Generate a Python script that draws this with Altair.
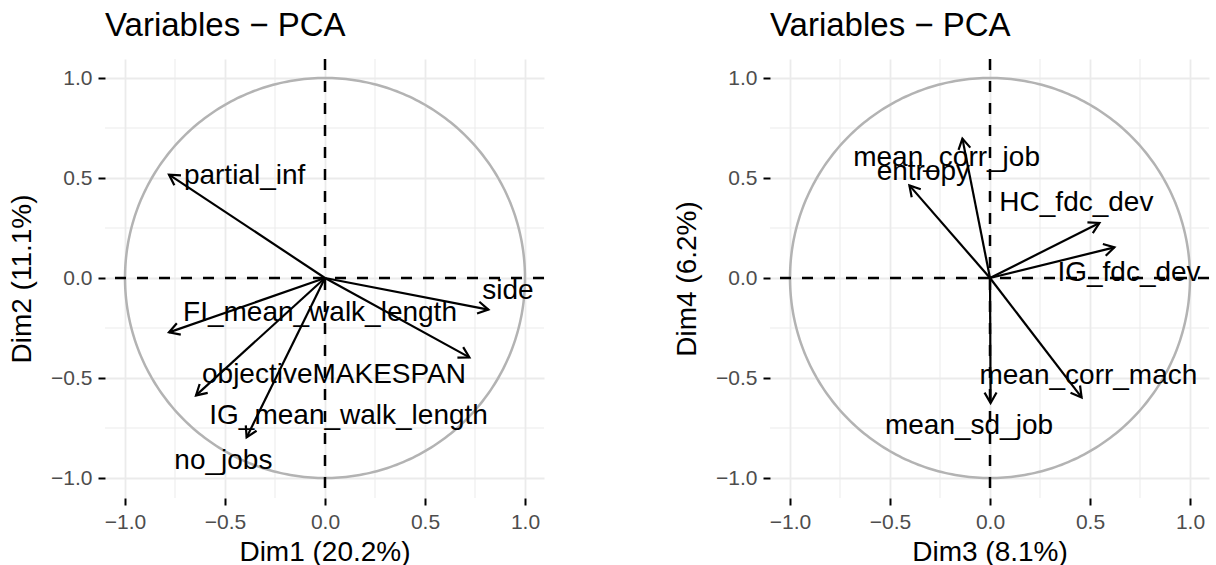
import altair as alt
import pandas as pd
import numpy as np

# ---------------- data ----------------
# Panel 1: Dim1 x Dim2
vars1 = ["partial_inf", "side", "FI_mean_walk_length", "objectiveMAKESPAN",
         "IG_mean_walk_length", "no_jobs"]
x1 = [-0.78, 0.817, -0.78, 0.722, -0.645, -0.392]
y1 = [0.517, -0.158, -0.272, -0.397, -0.587, -0.797]
lab_x1 = [-0.402, 0.915, -0.025, 0.045, 0.118, -0.508]
lab_y1 = [0.508, -0.063, -0.175, -0.483, -0.692, -0.913]

# Panel 2: Dim3 x Dim4
vars2 = ["mean_corr_job", "entropy", "HC_fdc_dev", "IG_fdc_dev",
         "mean_corr_mach", "mean_sd_job"]
x2 = [-0.138, -0.403, 0.547, 0.622, 0.458, 0.003]
y2 = [0.697, 0.463, 0.275, 0.153, -0.597, -0.625]
lab_x2 = [-0.217, -0.333, 0.432, 0.695, 0.492, -0.105]
lab_y2 = [0.600, 0.528, 0.375, 0.025, -0.492, -0.742]

axis_titles1 = ("Dim1 (20.2%)", "Dim2 (11.1%)")
axis_titles2 = ("Dim3 (8.1%)", "Dim4 (6.2%)")
chart_title = "Variables \u2212 PCA"

major_ticks = [-1.0, -0.5, 0.0, 0.5, 1.0]
minor_ticks = [-0.75, -0.25, 0.25, 0.75]

# ---------------- styling ----------------
FONT = "Liberation Sans"
DOM = [-1.1, 1.095]
SIZE = 439
ARROW_PATH = "M-0.5,0.866L0,0L0.5,0.866"


def make_axis(title, title_pad):
    return alt.Axis(values=major_ticks, format=".1f", title=title,
                    grid=True, gridColor="#EBEBEB", gridWidth=1.8,
                    domain=False, ticks=True, tickColor="black",
                    tickSize=7, tickWidth=2,
                    labelFontSize=21, labelColor="#4D4D4D", labelFont=FONT,
                    labelPadding=6,
                    titleFontSize=28, titleFont=FONT, titleFontWeight="normal",
                    titleColor="black", titlePadding=title_pad)


def panel(names, xs, ys, lxs, lys, titles):
    sx = alt.Scale(domain=DOM, nice=False, zero=False)
    sy = alt.Scale(domain=DOM, nice=False, zero=False)
    ax = make_axis(titles[0], 6)
    ay = make_axis(titles[1], 14)

    arrows = pd.DataFrame({"name": names, "x": xs, "y": ys})
    arrows["x0"] = 0.0
    arrows["y0"] = 0.0
    arrows["ang"] = (np.degrees(np.arctan2(arrows["x"], arrows["y"])) + 360) % 360
    labels = pd.DataFrame({"name": names, "x": lxs, "y": lys})
    minor = pd.DataFrame({"v": minor_ticks})
    zero = pd.DataFrame({"v": [0.0]})
    t = np.linspace(0, 2 * np.pi, 361)
    circ = pd.DataFrame({"x": np.cos(t), "y": np.sin(t), "i": np.arange(361)})

    gx = alt.Chart(minor).mark_rule(color="#EBEBEB", strokeWidth=1).encode(
        x=alt.X("v:Q", scale=sx, axis=ax))
    gy = alt.Chart(minor).mark_rule(color="#EBEBEB", strokeWidth=1).encode(
        y=alt.Y("v:Q", scale=sy, axis=ay))
    circle = alt.Chart(circ).mark_line(color="#B3B3B3", strokeWidth=2.5).encode(
        x=alt.X("x:Q", scale=sx, axis=ax),
        y=alt.Y("y:Q", scale=sy, axis=ay),
        order="i:Q")
    hz = alt.Chart(zero).mark_rule(color="black", strokeWidth=2.5,
                                   strokeDash=[11, 11]).encode(
        y=alt.Y("v:Q", scale=sy, axis=ay))
    vz = alt.Chart(zero).mark_rule(color="black", strokeWidth=2.5,
                                   strokeDash=[11, 11]).encode(
        x=alt.X("v:Q", scale=sx, axis=ax))
    shafts = alt.Chart(arrows).mark_rule(color="black", strokeWidth=2.2).encode(
        x=alt.X("x0:Q", scale=sx, axis=ax),
        y=alt.Y("y0:Q", scale=sy, axis=ay),
        x2="x:Q", y2="y:Q")
    heads = alt.Chart(arrows).mark_point(shape=ARROW_PATH, filled=False,
                                         size=576, strokeWidth=2.2,
                                         color="black", opacity=1).encode(
        x=alt.X("x:Q", scale=sx, axis=ax),
        y=alt.Y("y:Q", scale=sy, axis=ay),
        angle=alt.Angle("ang:Q", scale=None))
    texts = alt.Chart(labels).mark_text(fontSize=28, font=FONT, color="black",
                                        baseline="middle", align="center").encode(
        x=alt.X("x:Q", scale=sx, axis=ax),
        y=alt.Y("y:Q", scale=sy, axis=ay),
        text="name:N")

    return alt.layer(gx, gy, circle, hz, vz, shafts, heads, texts).properties(
        width=SIZE, height=SIZE,
        title=alt.TitleParams(chart_title, anchor="start", frame="group",
                              fontSize=33, font=FONT, fontWeight="normal",
                              color="black", offset=15))


left = panel(vars1, x1, y1, lab_x1, lab_y1, axis_titles1)
right = panel(vars2, x2, y2, lab_x2, lab_y2, axis_titles2)

chart = alt.hconcat(left, right, spacing=127).properties(
    padding={"left": 8, "top": 9, "right": 0, "bottom": 0}
).configure_view(stroke=None)

chart.save("out.html", embed_options={"renderer": "svg", "actions": False})
